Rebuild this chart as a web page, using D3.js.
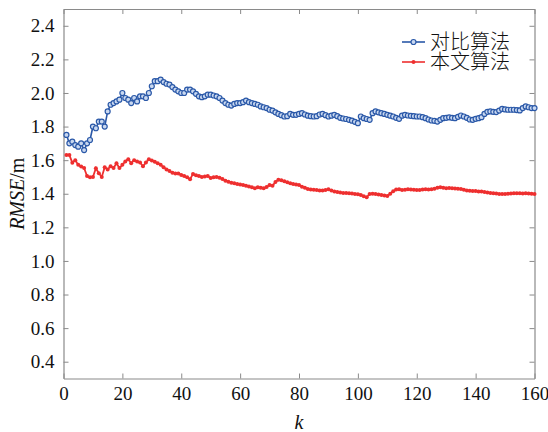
<!DOCTYPE html>
<html>
<head>
<meta charset="utf-8">
<script src="https://cdn.jsdelivr.net/npm/d3@7"></script>
<style>
  html, body { margin: 0; padding: 0; background: #fff; }
  svg { display: block; }
  text { font-family: "Liberation Serif", "Times New Roman", serif; fill: #111; }
  .cjk { font-family: "Noto Sans CJK SC", sans-serif; font-weight: 300; }
</style>
</head>
<body>
<svg id="chart" width="548" height="432"></svg>
<script>
// RMSE per step k for the two algorithms
const seriesNames = ["对比算法", "本文算法"];

const compareRmse = [
  1.75, 1.70, 1.71, 1.69, 1.68, 1.70, 1.66, 1.70, 1.72, 1.80,
  1.79, 1.83, 1.83, 1.80, 1.89, 1.93, 1.94, 1.95, 1.96, 2.00,
  1.97, 1.96, 1.94, 1.97, 1.95, 1.98, 1.98, 1.97, 2.00, 2.04,
  2.07, 2.07, 2.08, 2.065, 2.055, 2.05, 2.035, 2.02, 2.01, 2.00,
  2.00, 2.02, 2.02, 2.01, 1.995, 1.98, 1.975, 1.98, 1.99, 1.99,
  1.985, 1.98, 1.97, 1.955, 1.94, 1.93, 1.925, 1.935, 1.94, 1.94,
  1.945, 1.955, 1.945, 1.94, 1.935, 1.93, 1.92, 1.915, 1.91, 1.90,
  1.895, 1.885, 1.875, 1.868, 1.86, 1.862, 1.875, 1.87, 1.87, 1.875,
  1.88, 1.872, 1.865, 1.862, 1.86, 1.862, 1.872, 1.876, 1.868, 1.86,
  1.865, 1.87, 1.862, 1.852, 1.848, 1.845, 1.84, 1.835, 1.828, 1.82,
  1.86, 1.85, 1.845, 1.84, 1.88, 1.89, 1.885, 1.88, 1.875, 1.87,
  1.865, 1.86, 1.852, 1.846, 1.865, 1.87, 1.866, 1.864, 1.862, 1.86,
  1.86, 1.856, 1.85, 1.842, 1.836, 1.834, 1.83, 1.84, 1.85, 1.852,
  1.855, 1.852, 1.85, 1.858, 1.866, 1.86, 1.852, 1.842, 1.84, 1.846,
  1.85, 1.856, 1.875, 1.888, 1.89, 1.888, 1.886, 1.895, 1.905, 1.902,
  1.90, 1.90, 1.90, 1.898, 1.896, 1.91, 1.92, 1.915, 1.91, 1.91
];

const proposedRmse = [
  1.63, 1.63, 1.585, 1.60, 1.572, 1.562, 1.553, 1.505, 1.498, 1.50,
  1.552, 1.522, 1.50, 1.558, 1.545, 1.563, 1.553, 1.582, 1.553, 1.572,
  1.592, 1.606, 1.582, 1.60, 1.592, 1.586, 1.563, 1.586, 1.606, 1.598,
  1.59, 1.582, 1.572, 1.558, 1.545, 1.535, 1.525, 1.52, 1.52, 1.512,
  1.505, 1.498, 1.487, 1.518, 1.51, 1.506, 1.50, 1.502, 1.506, 1.494,
  1.498, 1.50, 1.495, 1.488, 1.478, 1.472, 1.466, 1.462, 1.458, 1.455,
  1.452, 1.448, 1.443, 1.438, 1.433, 1.439, 1.436, 1.433, 1.44, 1.452,
  1.447, 1.47, 1.483, 1.48, 1.475, 1.468, 1.463, 1.458, 1.455, 1.452,
  1.442, 1.435, 1.428, 1.425, 1.424, 1.422, 1.42, 1.419, 1.422, 1.427,
  1.42, 1.413, 1.41, 1.407, 1.405, 1.404, 1.403, 1.401, 1.399, 1.397,
  1.393, 1.385, 1.379, 1.399, 1.40, 1.399, 1.396, 1.393, 1.39, 1.387,
  1.40, 1.415, 1.425, 1.427, 1.423, 1.424, 1.427, 1.425, 1.424, 1.423,
  1.423, 1.425, 1.427, 1.426, 1.427, 1.43, 1.436, 1.439, 1.436, 1.433,
  1.434, 1.433, 1.432, 1.43, 1.429, 1.424, 1.42, 1.418, 1.417, 1.416,
  1.414, 1.413, 1.41, 1.407, 1.405, 1.403, 1.401, 1.399, 1.399, 1.399,
  1.40, 1.401, 1.403, 1.403, 1.403, 1.402, 1.403, 1.402, 1.40, 1.399
];

const xTicks = [0, 20, 40, 60, 80, 100, 120, 140, 160];
const yTicks = [0.4, 0.6, 0.8, 1.0, 1.2, 1.4, 1.6, 1.8, 2.0, 2.2, 2.4];

const svg = d3.select("#chart");
const plot = { left: 63.5, right: 534.5, top: 9, bottom: 378.5 };

const x = d3.scaleLinear().domain([0, 160]).range([plot.left, plot.right]);
const y = d3.scaleLinear().domain([0.3, 2.5]).range([plot.bottom, plot.top]);

const axisColor = "#8a8a8a";
const tickLen = 5;
const serif = "'Liberation Serif', 'Times New Roman', serif";

// frame + inward ticks on all four sides
function styleAxis(g) {
  g.attr("font-family", null).attr("font-size", null);
  g.select(".domain").attr("stroke", axisColor).attr("stroke-width", 1.2);
  g.selectAll(".tick line").attr("stroke", axisColor).attr("stroke-width", 1);
  g.selectAll(".tick text").style("font-family", serif).attr("font-size", 19).attr("fill", "#111");
}

svg.append("g")
  .attr("transform", `translate(0,${plot.bottom})`)
  .call(d3.axisBottom(x).tickValues(xTicks).tickSizeInner(-tickLen).tickSizeOuter(0).tickPadding(8))
  .call(styleAxis);

svg.append("g")
  .attr("transform", `translate(0,${plot.top})`)
  .call(d3.axisTop(x).tickValues(xTicks).tickSizeInner(-tickLen).tickSizeOuter(0).tickFormat(""))
  .call(styleAxis);

svg.append("g")
  .attr("transform", `translate(${plot.left},0)`)
  .call(d3.axisLeft(y).tickValues(yTicks).tickFormat(d3.format(".1f"))
    .tickSizeInner(-tickLen).tickSizeOuter(0).tickPadding(9))
  .call(styleAxis);

svg.append("g")
  .attr("transform", `translate(${plot.right},0)`)
  .call(d3.axisRight(y).tickValues(yTicks).tickSizeInner(-tickLen).tickSizeOuter(0).tickFormat(""))
  .call(styleAxis);

// axis titles
svg.append("text")
  .attr("x", (plot.left + plot.right) / 2)
  .attr("y", 429)
  .attr("text-anchor", "middle")
  .attr("font-size", 20)
  .attr("font-style", "italic")
  .style("font-family", serif)
  .text("k");

const yTitle = svg.append("text")
  .attr("transform", `translate(24,${(plot.top + plot.bottom) / 2}) rotate(-90)`)
  .attr("text-anchor", "middle")
  .attr("font-size", 20)
  .style("font-family", serif);
yTitle.append("tspan").attr("font-style", "italic").text("RMSE");
yTitle.append("tspan").text("/m");

// series
const blue = "#2a58a8";
const red = "#ee2f2f";
const line = d3.line().x((d, i) => x(i + 1)).y(d => y(d));

svg.append("path").datum(proposedRmse)
  .attr("fill", "none").attr("stroke", red).attr("stroke-width", 1.8)
  .attr("d", line);
svg.append("g").selectAll("circle").data(proposedRmse).join("circle")
  .attr("cx", (d, i) => x(i + 1)).attr("cy", d => y(d))
  .attr("r", 2).attr("fill", red);

svg.append("path").datum(compareRmse)
  .attr("fill", "none").attr("stroke", blue).attr("stroke-width", 1.6)
  .attr("d", line);
svg.append("g").selectAll("circle").data(compareRmse).join("circle")
  .attr("cx", (d, i) => x(i + 1)).attr("cy", d => y(d))
  .attr("r", 2.5).attr("fill", "#c9d8f0").attr("stroke", blue).attr("stroke-width", 1.2);

// legend
const legend = svg.append("g");
const legendItems = [
  { name: seriesNames[0], color: blue, open: true, y: 42 },
  { name: seriesNames[1], color: red, open: false, y: 62 }
];
legendItems.forEach(it => {
  legend.append("line").attr("x1", 402).attr("x2", 425)
    .attr("y1", it.y).attr("y2", it.y)
    .attr("stroke", it.color).attr("stroke-width", 1.6);
  legend.append("circle").attr("cx", 413.5).attr("cy", it.y)
    .attr("r", it.open ? 2.5 : 2)
    .attr("fill", it.open ? "#c9d8f0" : it.color)
    .attr("stroke", it.open ? it.color : "none").attr("stroke-width", 1.2);
  legend.append("text").attr("class", "cjk")
    .attr("x", 430).attr("y", it.y + 7)
    .attr("font-size", 20)
    .text(it.name);
});
</script>
</body>
</html>
